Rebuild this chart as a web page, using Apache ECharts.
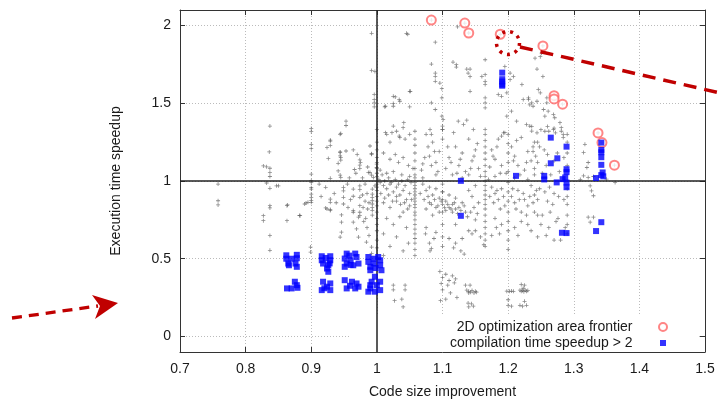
<!DOCTYPE html>
<html>
<head>
<meta charset="utf-8">
<script src="https://cdn.jsdelivr.net/npm/echarts@6/dist/echarts.min.js"></script>
<style>html,body{margin:0;padding:0;background:#fff}#c{width:718px;height:404px}</style>
</head>
<body>
<div id="c"></div>
<script>
// ---- tick labels ----
const xTickValues = [0.7, 0.8, 0.9, 1.0, 1.1, 1.2, 1.3, 1.4, 1.5];
const yTickValues = [0, 0.5, 1, 1.5, 2];
const xAxisName = 'Code size improvement';
const yAxisName = 'Execution time speedup';
const seriesNames = ['all points', '2D optimization area frontier', 'compilation time speedup > 2'];

// ---- all explored points (code size improvement, execution time speedup) ----
const grayPoints = [
[0.758,0.98],[0.758,0.873],[0.758,0.846],
[0.837,1.353],[0.836,1.187],[0.827,1.097],[0.832,1.091],[0.837,1.082],[0.837,1.055],[0.837,1.029],[0.832,0.987],[0.85,0.969],[0.837,0.953],[0.837,0.841],[0.837,0.827],[0.827,0.777],[0.827,0.745],[0.837,0.65],[0.837,0.554],[0.847,0.969],[0.863,0.841],[0.863,0.745],[0.864,0.846],
[0.883,0.777],[0.89,0.852],[0.895,0.863],[0.9,1.338],[0.9,1.317],[0.9,1.236],[0.9,1.208],[0.9,1.044],[0.9,1.002],[0.9,0.99],[0.9,0.957],[0.9,0.948],[0.9,0.916],[0.9,0.895],[0.9,0.874],[0.9,0.863],[0.892,0.859],[0.899,0.575],[0.899,0.543],[0.882,0.778],
[0.924,1.215],[0.929,1.263],[0.929,1.229],[0.929,1.257],[0.944,1.3],[0.953,1.385],[0.953,1.357],[0.945,1.306],[0.953,1.193],[0.944,1.187],[0.926,1.145],[0.945,1.151],[0.945,1.134],[0.941,1.114],[0.941,1.065],[0.944,1.038],[0.945,1.023],[0.944,1.183],[0.944,1.161],
[0.929,1.017],[0.922,0.959],[0.949,0.959],[0.949,0.937],[0.964,0.948],[0.929,0.884],[0.929,0.863],[0.924,0.82],[0.929,0.81],[0.949,0.895],[0.949,0.852],[0.922,0.827],[0.929,0.816],[0.946,0.782],[0.946,0.735],[0.944,0.639],[0.946,0.671],
[0.974,1.136],[0.974,1.102],[0.974,1.081],[0.966,1.074],[0.964,1.2],[0.97,1.17],[0.975,1.12],[0.968,1.05],[0.974,0.969],[0.974,0.944],[0.964,0.902],[0.974,0.895],[0.974,0.841],[0.964,0.81],[0.974,0.799],[0.974,0.777],[0.964,0.735],[0.969,0.692],[0.972,0.639],[0.964,0.799],[0.972,0.767],[0.984,0.607],[0.988,0.65],
[0.992,1.176],[0.9997,1.108],[0.9997,1.087],[0.9895,1.055],[0.992,1.038],[0.9946,1.023],[0.9895,1.225],[0.992,1.172],[0.987,1.055],
[0.993,0.948],[0.993,0.916],[0.993,0.895],[0.993,0.873],[0.993,0.852],[0.993,0.83],[0.993,0.81],[0.993,0.78],[0.997,0.969],[0.992,0.575],[0.992,0.533],[0.985,0.92],[0.988,0.86],[0.98,0.74],[0.985,0.7],
[0.992,1.95],[0.992,1.711],[0.996,1.556],[0.996,1.524],[0.996,1.502],[0.996,1.477],[0.997,1.705],[1.0,1.33],[1.0,1.25],[1.0,1.2],[1.0,1.15],[1.0,1.12],[1.0,1.08],[1.0,1.05],[1.0,1.03],[1.0,0.98],[1.0,0.96],[1.0,0.94],[1.0,0.9],[1.0,0.87],[1.0,0.84],[1.0,0.8],[1.0,0.76],[1.0,0.72],[1.0,0.68],[1.0,0.62],[1.0,0.57],
[1.058,1.32],[1.058,1.27],[1.058,1.23],[1.058,1.18],[1.058,1.13],[1.058,1.08],[1.058,1.04],[1.058,1.02],[1.058,0.99],[1.058,0.97],[1.058,0.95],[1.058,0.93],[1.058,0.91],[1.058,0.89],[1.058,0.87],[1.058,0.85],[1.058,0.83],[1.058,0.8],[1.058,0.78],[1.058,0.75],[1.058,0.72],[1.058,0.69],[1.058,0.66],[1.058,0.63],[1.058,0.6],[1.058,0.56],[1.058,0.52],
[1.165,1.78],[1.165,1.684],[1.165,1.641],[1.165,1.62],[1.165,1.535],[1.165,1.503],[1.165,1.471],[1.165,1.332],[1.165,1.3],[1.165,1.26],[1.165,1.22],[1.165,1.18],[1.165,1.14],[1.165,1.1],[1.165,1.06],[1.165,1.03],[1.165,1.0],[1.165,0.97],[1.165,0.94],[1.165,0.91],[1.165,0.88],[1.165,0.85],[1.165,0.82],[1.165,0.78],[1.165,0.74],[1.165,0.7],[1.165,0.66],[1.165,0.62],[1.165,0.58],
[1.2,1.3],[1.2,1.24],[1.2,1.18],[1.2,1.12],[1.2,1.06],[1.2,0.99],[1.2,0.93],[1.2,0.87],[1.2,0.8],[1.2,0.74],[1.2,0.68],[1.2,0.62],
[1.1,0.98],[1.1,0.93],[1.1,0.88],[1.1,0.8],[1.1,0.72],[1.1,0.64],[1.1,0.58],
[1.29,1.3],[1.29,1.25],[1.29,1.18],[1.29,1.1],[1.29,0.95],[1.29,0.9],[1.29,0.85],[1.29,0.78],[1.29,0.72],[1.29,0.66],
[1.015,1.3],[1.02,1.25],[1.03,1.32],[1.035,1.28],[1.043,1.27],[1.01,1.18],[1.02,1.14],[1.028,1.17],[1.033,1.12],[1.04,1.15],[1.048,1.1],[1.005,1.07],[1.015,1.05],[1.025,1.06],[1.038,1.04],[1.05,1.03],[1.055,1.08],[1.075,1.3],[1.078,1.22],[1.08,1.16],[1.085,1.25],[1.09,1.12],[1.095,1.19],[1.1,1.27],[1.105,1.08],[1.11,1.15],[1.115,1.04],[1.12,1.22],[1.125,1.1],[1.13,1.18],[1.135,1.06],[1.14,1.27],[1.145,1.13],[1.15,1.2],[1.155,1.08],[1.158,1.03],[1.175,1.2],[1.18,1.14],[1.185,1.27],[1.188,1.05],[1.19,1.1],[1.193,1.31],[1.205,1.22],[1.21,1.16],[1.215,1.1],[1.22,1.28],[1.225,1.07],[1.23,1.19],[1.235,1.13],[1.24,1.04],[1.245,1.25],[1.1,1.33],[1.07,1.11],[1.07,1.02],[1.09,1.04],[1.13,1.02],[1.14,1.04],[1.17,1.01],[1.18,1.03],[1.21,1.02],[1.23,1.01],
[1.045,1.95],[1.047,1.944],[1.089,1.893],[1.083,1.752],[1.089,1.694],[1.089,1.673],[1.089,1.641],[1.096,1.63],[1.099,1.594],[1.099,1.535],[1.116,1.765],[1.121,1.748],[1.121,1.733],[1.137,1.72],[1.142,1.72],[1.139,1.694],[1.142,1.673],[1.142,1.577],[1.123,1.992],[1.16,1.673],[1.195,1.737],[1.203,1.694],[1.203,1.652],[1.208,1.673],[1.221,1.62],[1.231,1.535],[1.231,1.524],[1.185,1.556],[1.19,1.545],[1.198,1.567],[1.05,1.577],[1.028,1.541],[1.012,1.477],[1.025,1.481],[1.035,1.513],[1.05,1.477],[1.083,1.503],[1.089,1.46],[1.099,1.417],[1.101,1.396],[1.1,1.353],[1.1,1.332],[1.081,1.332],[1.083,1.3],[1.124,1.385],[1.132,1.364],[1.137,1.391],[1.147,1.332],[1.117,1.311],[1.198,1.417],[1.205,1.449],[1.213,1.385],[1.228,1.364],[1.233,1.353],[1.19,1.289],[1.195,1.311],[1.223,1.524],[1.238,1.481],[1.023,1.311],[1.04,1.343],[1.05,1.3],[1.013,1.481],[1.025,1.545],[1.025,1.498],[1.034,1.524],[1.051,1.577],[1.041,1.375],[1.025,1.353],[1.034,1.289],[1.013,1.311],
[1.241,1.79],[1.249,1.8],[1.251,1.822],[1.244,1.72],[1.253,1.673],[1.246,1.588],[1.249,1.567],[1.236,1.503],[1.244,1.513],[1.259,1.535],[1.259,1.503],[1.254,1.46],[1.261,1.449],[1.256,1.417],[1.269,1.428],[1.271,1.407],[1.279,1.375],[1.281,1.343],[1.284,1.3],[1.236,1.35],[1.25,1.33],[1.26,1.35],[1.262,1.32],[1.27,1.34],[1.272,1.31],[1.233,1.49],
[1.236,1.321],[1.244,1.31],[1.256,1.32],[1.269,1.33],[1.281,1.32],[1.284,1.28],[1.24,1.25],[1.248,1.22],[1.238,1.19],[1.255,1.2],[1.26,1.17],[1.245,1.12],[1.258,1.1],[1.27,1.13],[1.278,1.06],[1.252,1.05],[1.265,1.04],[1.24,1.08],[1.275,1.18],[1.285,1.15],
[1.317,1.236],[1.315,1.183],[1.322,1.119],[1.32,1.087],[1.315,1.033],[1.322,1.023],[1.33,1.029],[1.35,1.012],[1.363,0.991],[1.325,0.969],[1.327,0.937],[1.33,0.905],[1.322,0.767],[1.33,0.767],[1.325,0.735],[1.31,1.01],
[1.005,0.99],[1.01,0.97],[1.015,0.95],[1.02,0.98],[1.025,0.93],[1.03,0.96],[1.035,0.91],[1.04,0.94],[1.045,0.88],[1.05,0.92],[1.01,0.86],[1.02,0.83],[1.03,0.87],[1.04,0.8],[1.05,0.84],[1.015,0.76],[1.025,0.72],[1.035,0.77],[1.045,0.7],[1.01,0.66],[1.03,0.64],[1.048,0.6],[1.02,0.58],[1.04,0.55],[1.01,0.52],
[1.07,0.98],[1.075,0.94],[1.08,0.96],[1.085,0.91],[1.09,0.95],[1.095,0.89],[1.1,0.93],[1.105,0.87],[1.11,0.91],[1.115,0.85],[1.12,0.89],[1.125,0.83],[1.08,0.86],[1.09,0.83],[1.1,0.85],[1.105,0.81],[1.11,0.83],[1.115,0.8],[1.12,0.82],[1.095,0.8],[1.085,0.78],[1.075,0.82],[1.13,0.86],[1.135,0.8],[1.14,0.94],[1.145,0.9],[1.15,0.97],[1.155,0.86],[1.075,0.7],[1.09,0.67],[1.12,0.72],[1.14,0.68],[1.13,0.63],[1.15,0.75],[1.08,0.6],[1.12,0.6],
[1.175,0.96],[1.18,0.92],[1.185,0.88],[1.19,0.95],[1.195,0.84],[1.205,0.9],[1.21,0.86],[1.215,0.94],[1.22,0.8],[1.225,0.88],[1.23,0.84],[1.235,0.97],[1.24,0.91],[1.245,0.78],[1.18,0.76],[1.19,0.72],[1.21,0.7],[1.22,0.74],[1.235,0.68],[1.245,0.64],[1.175,0.65],[1.2,0.56],
[1.248,0.95],[1.256,0.93],[1.263,0.96],[1.27,0.92],[1.245,0.88],[1.26,0.87],[1.268,0.85],[1.277,0.9],[1.285,0.88],[1.24,0.8],[1.252,0.78],[1.264,0.8],[1.276,0.76],[1.25,0.72],[1.262,0.7],[1.273,0.74],[1.287,0.7],[1.258,0.65],[1.27,0.62],[1.28,0.62],
[1.074,0.66],[1.081,0.55],[1.083,0.565],[1.087,0.63],[1.11,0.63],[1.117,0.57],[1.128,0.55],[1.133,0.53],[1.145,0.66],[1.15,0.68],[1.158,0.64],[1.163,0.59],
[1.003,1.01],[1.008,1.04],[1.012,1.0],[1.018,1.02],[1.022,0.99],[1.028,1.01],[1.033,0.98],[1.038,1.0],[1.043,0.97],[1.047,1.01],[1.052,0.99],[1.006,0.92],[1.012,0.89],[1.018,0.91],[1.024,0.87],[1.03,0.9],[1.036,0.85],[1.042,0.86],[1.047,0.82],[1.053,0.88],
[1.066,0.92],[1.072,0.88],[1.078,0.9],[1.083,0.85],[1.088,0.88],[1.093,0.84],[1.098,0.87],[1.103,0.83],[1.108,0.85],[1.113,0.82],[1.118,0.86],[1.123,0.79],[1.128,0.81],[1.133,0.84],[1.138,0.77],[1.143,0.8],[1.148,0.83],[1.153,0.79],
[1.068,1.07],[1.073,1.15],[1.083,1.1],[1.088,1.19],[1.093,1.06],[1.108,1.22],[1.113,1.12],[1.122,1.05],[1.127,1.14],[1.143,1.08],[1.148,1.16],[1.153,1.24],[1.172,1.09],[1.177,1.16],[1.183,1.22],[1.197,1.05],[1.208,1.13],[1.213,1.26],[1.218,1.04],[1.228,1.12],[1.238,1.22],[1.242,1.16],
[1.172,0.9],[1.178,0.86],[1.183,0.94],[1.188,0.82],[1.193,0.9],[1.207,0.95],[1.212,0.82],[1.217,0.88],[1.223,0.92],[1.228,0.78],[1.233,0.9],[1.238,0.86],[1.243,0.94],[1.182,0.7],[1.187,0.66],[1.215,0.65],[1.23,0.72],
[0.978,1.02],[0.982,0.98],[0.986,1.09],[0.978,0.91],[0.982,0.87],[0.986,0.82],[0.979,0.83],[0.983,0.76],[0.958,1.02],[0.955,0.98],[0.96,0.88],[0.956,0.83],[0.935,0.92],[0.938,0.86],[0.912,0.98],[0.915,0.9],
[1.025,0.33],[1.043,0.33],[1.025,0.3],[1.043,0.3],[1.027,0.23],[1.04,0.19],[1.038,0.24],
[1.096,0.418],[1.1,0.38],[1.105,0.4],[1.11,0.36],[1.115,0.39],[1.12,0.37],[1.098,0.34],[1.108,0.33],[1.118,0.345],[1.1,0.3],[1.112,0.28],[1.105,0.24],[1.097,0.23],[1.122,0.25],
[1.137,0.298],[1.14,0.29],[1.143,0.285],[1.145,0.295],[1.148,0.28],[1.15,0.29],[1.152,0.285],[1.14,0.28],[1.135,0.33],[1.142,0.33],[1.139,0.215],[1.144,0.21],[1.147,0.195],[1.14,0.19],
[1.198,0.291],[1.202,0.29],[1.205,0.292],[1.208,0.29],[1.2,0.2],[1.205,0.195],[1.2,0.236],
[1.218,0.298],[1.22,0.29],[1.222,0.295],[1.224,0.288],[1.226,0.298],[1.228,0.29],[1.23,0.295],[1.22,0.335],[1.225,0.33],[1.223,0.31],[1.218,0.2],[1.222,0.195],[1.228,0.2],[1.225,0.226],
[1.083,2.035],[1.134,2.016],[1.14,1.952],[1.188,1.944],[1.253,1.869],[1.27,1.549],[1.27,1.528],[1.283,1.494],[1.337,1.309],[1.343,1.247],[1.362,1.102]
];

// ---- Pareto frontier points ----
const frontierPoints = [
[1.083,2.035],[1.134,2.016],[1.14,1.952],[1.188,1.944],[1.253,1.869],[1.27,1.549],[1.27,1.528],[1.283,1.494],[1.337,1.309],[1.343,1.247],[1.362,1.102]
];

// ---- points whose compilation time speedup > 2 ----
const fastCompilePoints = [
[0.862,0.522],[0.878,0.525],[0.862,0.5],[0.878,0.503],[0.865,0.469],[0.876,0.469],[0.878,0.448],[0.866,0.458],[0.87,0.5],
[0.875,0.352],[0.863,0.309],[0.87,0.309],[0.879,0.313],[0.878,0.33],
[0.916,0.516],[0.929,0.516],[0.916,0.49],[0.929,0.49],[0.918,0.469],[0.926,0.458],[0.924,0.437],[0.926,0.416],[0.922,0.505],[0.928,0.47],
[0.918,0.352],[0.929,0.341],[0.916,0.298],[0.929,0.298],[0.924,0.32],[0.92,0.31],
[0.954,0.533],[0.967,0.533],[0.951,0.501],[0.969,0.511],[0.954,0.469],[0.964,0.458],[0.972,0.469],[0.951,0.448],[0.96,0.49],[0.96,0.46],[0.958,0.52],
[0.951,0.362],[0.962,0.352],[0.969,0.341],[0.954,0.309],[0.967,0.309],[0.959,0.326],[0.972,0.32],
[0.987,0.511],[1.002,0.511],[0.987,0.48],[1.005,0.49],[0.99,0.448],[1.005,0.458],[0.995,0.469],[1.007,0.426],[0.99,0.426],[0.995,0.5],[0.998,0.44],
[0.997,0.384],[0.992,0.352],[1.005,0.352],[0.99,0.309],[1.005,0.298],[0.997,0.288],[0.987,0.288],[1.0,0.33],[0.99,0.33],
[1.191,1.697],[1.191,1.655],[1.191,1.64],[1.191,1.62],[1.191,1.613],[1.128,1.001],[1.128,0.776],[1.212,1.033],[1.265,1.279],[1.289,1.221],[1.275,1.146],[1.265,1.114],[1.289,1.076],[1.289,1.057],[1.255,1.033],[1.255,1.01],[1.274,0.991],[1.283,1.012],[1.287,1.023],[1.289,0.99],[1.289,0.96],
[1.342,1.247],[1.342,1.2],[1.342,1.185],[1.342,1.153],[1.342,1.104],[1.344,1.055],[1.342,1.038],[1.334,1.019],[1.345,1.03],[1.342,0.735],[1.334,0.678],[1.282,0.667],[1.289,0.665]
];

const FONT = 'Liberation Sans, Arial, Helvetica, sans-serif';
const TXT = '#1a1a1a';
const BORDER = '#333';
const chart = echarts.init(document.getElementById('c'), null, {renderer: 'canvas'});

const baseX = {
  type: 'value', min: 0.7, max: 1.5, interval: 0.1,
  axisLine: {show: true, onZero: false, lineStyle: {color: BORDER, width: 1}},
  axisTick: {show: true, inside: true, length: 5, customValues: xTickValues, lineStyle: {color: BORDER}},
};
const baseY = {
  type: 'value', min: -0.1, max: 2.1,
  axisLine: {show: true, onZero: false, lineStyle: {color: BORDER, width: 1}},
  axisTick: {show: true, inside: true, length: 5, customValues: yTickValues, lineStyle: {color: BORDER}},
};

chart.setOption({
  animation: false,
  backgroundColor: '#fff',
  grid: {left: 180, right: 13, top: 10, bottom: 51, containLabel: false},
  xAxis: [
    Object.assign({}, baseX, {
      position: 'bottom',
      name: xAxisName, nameLocation: 'middle', nameGap: 33,
      nameTextStyle: {fontSize: 14, color: TXT, fontFamily: FONT},
      axisLabel: {customValues: xTickValues, margin: 10, fontSize: 14, color: TXT, fontFamily: FONT,
        formatter: v => (Math.round(v * 10) / 10).toString()},
      splitLine: {show: true, lineStyle: {color: '#bbb', type: [1, 2], width: 1}}
    }),
    Object.assign({}, baseX, {
      position: 'top', axisLabel: {show: false}, splitLine: {show: false}
    })
  ],
  yAxis: [
    Object.assign({}, baseY, {
      position: 'left',
      name: yAxisName, nameLocation: 'middle', nameGap: 57, nameRotate: 90,
      nameTextStyle: {fontSize: 14, color: TXT, fontFamily: FONT},
      axisLabel: {customValues: yTickValues, margin: 9, fontSize: 14, color: TXT, fontFamily: FONT,
        formatter: v => (Math.round(v * 10) / 10).toString()},
      splitLine: {show: true, lineStyle: {color: '#bbb', type: [1, 2], width: 1}}
    }),
    Object.assign({}, baseY, {
      position: 'right', axisLabel: {show: false}, splitLine: {show: false}
    })
  ],
  legend: [
    {
      data: [seriesNames[1]], orient: 'vertical', align: 'right',
      right: 50, top: 320, itemWidth: 51, itemHeight: 8, padding: 0,
      textStyle: {fontSize: 14, color: TXT, fontFamily: FONT},
      selectedMode: false, z: 10
    },
    {
      data: [{name: seriesNames[2], icon: 'path://M0,0h10v10h-10z'}], orient: 'vertical', align: 'right',
      right: 52, top: 336, itemWidth: 51, itemHeight: 6, padding: 0, symbolKeepAspect: true,
      textStyle: {fontSize: 14, color: TXT, fontFamily: FONT},
      selectedMode: false, z: 10
    }
  ],
  graphic: [
    {type: 'rect', z: 3, silent: true, shape: {x: 351, y: 316, width: 346, height: 36}, style: {fill: '#fff'}},
    {type: 'polyline', z: 20, silent: true, shape: {points: [[520, 47], [720, 93]]},
      style: {stroke: '#c00000', lineWidth: 3.5, lineDash: [13, 8], fill: null}},
    {type: 'circle', z: 20, silent: true, shape: {cx: 508, cy: 43, r: 11.5},
      style: {stroke: '#c00000', lineWidth: 3.5, lineDash: [3, 5], fill: null}},
    {type: 'polyline', z: 20, silent: true, shape: {points: [[12, 318], [98, 306]]},
      style: {stroke: '#c00000', lineWidth: 3.3, lineDash: [10, 7], fill: null}},
    {type: 'polygon', z: 20, silent: true, shape: {points: [[92, 295], [118, 303], [95, 319], [100, 306]]},
      style: {fill: '#c00000'}}
  ],
  series: [
    {
      name: seriesNames[0], type: 'scatter', xAxisIndex: 0, yAxisIndex: 0,
      data: grayPoints, symbol: 'path://M0,2h5v1h-5zM2,0h1v5h-1z', symbolSize: 4,
      itemStyle: {color: '#555', opacity: 0.7}, silent: true, z: 2,
      markLine: {
        silent: true, symbol: 'none', animation: false,
        label: {show: false},
        lineStyle: {color: '#222', type: 'solid', width: 1.5},
        data: [{xAxis: 1}, {yAxis: 1}]
      }
    },
    {
      name: seriesNames[1], type: 'scatter', xAxisIndex: 0, yAxisIndex: 0,
      data: frontierPoints, symbol: 'emptyCircle', symbolSize: 9,
      itemStyle: {color: '#ff6666', borderColor: '#ff6666', borderWidth: 1}, z: 4
    },
    {
      name: seriesNames[2], type: 'scatter', xAxisIndex: 0, yAxisIndex: 0,
      data: fastCompilePoints, symbol: 'rect', symbolSize: 6,
      itemStyle: {color: '#0000ff'}, z: 5
    }
  ]
});
</script>
</body>
</html>
